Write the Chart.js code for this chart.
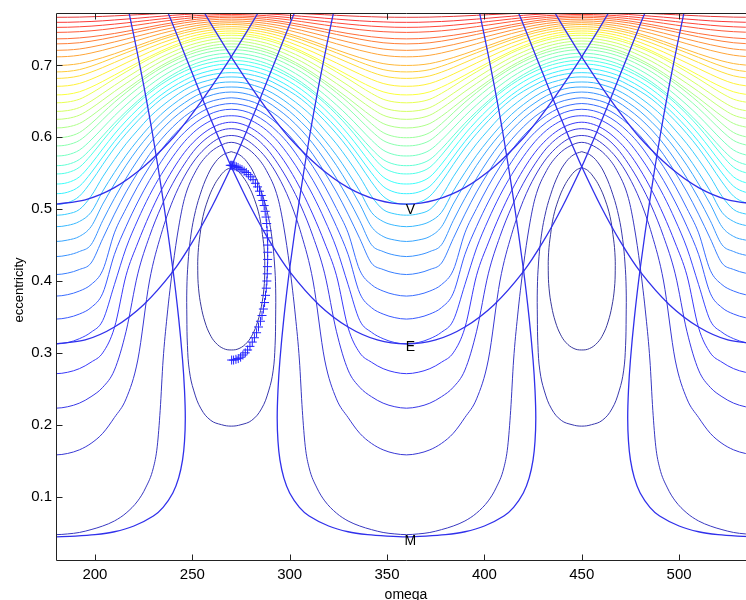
<!DOCTYPE html>
<html><head><meta charset="utf-8">
<script src="https://cdn.jsdelivr.net/npm/chart.js@4.4.1/dist/chart.umd.min.js"></script>
<style>
html,body{margin:0;padding:0;background:#fff;overflow:hidden;width:746px;height:600px}
#wrap{position:absolute;left:0;top:0;width:770px;height:600px}
</style></head>
<body><div id="wrap"><canvas id="c" width="770" height="600"></canvas></div>
<script>
// ---- axes ----
const xTicks = [200, 250, 300, 350, 400, 450, 500];
const yTicks = [0.1, 0.2, 0.3, 0.4, 0.5, 0.6, 0.7];

// ---- circulating contours: e at offset (deg) from the U centre (180/360/540) toward the island (270/450)
const D = [0, 6, 12, 18, 24, 30, 36, 42, 48, 54, 60, 66, 72, 78, 84, 90];
const d00 = [0, 6, 12, 18, 24, 30, 36, 42, 46, 50, 52, 53.5, 55, 57, 60, 63, 66, 72, 78, 84, 90];
const u00 = [.047,.048,.050,.054,.059,.066,.077,.094,.112,.14,.17,.22,.29,.35,.42,.475,.515,.554,.576,.588,.593];
const u01 = [.158,.160,.165,.174,.188,.210,.236,.29,.40,.465,.512,.546,.571,.588,.599,.6025];
const u02 = [.223,.225,.230,.239,.252,.276,.33,.41,.462,.503,.536,.563,.585,.600,.609,.612];
const u03 = [.271,.273,.278,.287,.300,.335,.408,.453,.492,.526,.555,.579,.597,.610,.618,.621];
const u04 = [.3125,.3143,.3197,.3287,.345,.395,.446,.485,.519,.548,.573,.594,.610,.621,.628,.630];
const u05 = [.347,.349,.354,.363,.383,.437,.476,.510,.540,.566,.589,.607,.621,.631,.637,.639];
const u06 = [.379,.381,.386,.395,.415,.467,.501,.532,.559,.582,.602,.618,.631,.640,.645,.647];
const u07 = [.409,.411,.416,.425,.459,.493,.524,.551,.576,.597,.6145,.629,.640,.6485,.653,.655];
const u08 = [.434,.436,.441,.4505,.484,.515,.543,.5685,.591,.610,.626,.639,.650,.657,.6615,.663];
const u09 = [.455,.457,.462,.4756,.507,.535,.561,.584,.604,.621,.636,.648,.658,.665,.669,.670];
const u10 = [.4756,.4774,.4828,.4956,.525,.551,.575,.596,.615,.632,.6455,.657,.666,.672,.676,.677];
const u11 = [.4916,.4934,.4995,.518,.545,.569,.591,.610,.628,.6425,.655,.666,.674,.679,.683,.684];
const u12 = [.507,.509,.518,.538,.562,.585,.605,.623,.639,.653,.664,.673,.681,.686,.689,.690];
const u13 = [.5215,.5236,.5318,.5505,.5726,.5941,.6133,.6304,.6457,.659,.6702,.6794,.6868,.6918,.6951,.696];
const u14 = [.535,.537,.5449,.5627,.5839,.6045,.6228,.6392,.6539,.6666,.6773,.6861,.6931,.698,.7012,.702];
const u15 = [.549,.5509,.5583,.5752,.5953,.6147,.6321,.6476,.6615,.6735,.6836,.692,.6986,.7032,.7062,.707];
const u16 = [.5605,.5623,.5691,.584,.6019,.6196,.6358,.6508,.6644,.6767,.6872,.6959,.7029,.7079,.7111,.712];
const u17 = [.574,.5757,.5822,.5962,.613,.6298,.6451,.6592,.6721,.6837,.6935,.7018,.7084,.7131,.7161,.717];
const u18 = [.588,.5896,.5956,.6088,.6246,.6403,.6546,.6679,.6799,.6908,.700,.7078,.714,.7184,.7212,.722];
const u19 = [.5994,.6009,.6066,.619,.634,.6488,.6623,.6749,.6862,.6965,.7052,.7126,.7184,.7226,.7252,.726];
const u20 = [.613,.6144,.6192,.6294,.6418,.6545,.6667,.6784,.6894,.6995,.7082,.7158,.7219,.7264,.7292,.730];
const u21 = [.625,.6263,.6308,.6403,.6518,.6637,.675,.6859,.6962,.7056,.7137,.7208,.7265,.7306,.7332,.734];
const u22 = [.636,.6372,.6414,.6503,.6611,.6722,.6828,.693,.7026,.7114,.719,.7257,.731,.7348,.7373,.738];
const u23 = [.648,.6491,.653,.6612,.6711,.6814,.6911,.7005,.7094,.7175,.7245,.7306,.7355,.7391,.7413,.742];
const u24 = [.659,.6599,.6633,.6698,.6778,.6865,.6953,.7039,.7122,.7201,.7272,.7334,.7384,.742,.7442,.745];
const u25 = [.671,.6718,.6749,.6807,.6879,.6956,.7035,.7112,.7187,.7257,.7321,.7376,.7421,.7453,.7473,.748];
const u26 = [.682,.6828,.6855,.6907,.6971,.7041,.7111,.718,.7247,.7311,.7367,.7417,.7457,.7486,.7504,.751];
const u27 = [.691,.6917,.6942,.6989,.7048,.7112,.7176,.7239,.730,.7358,.741,.7455,.7491,.7518,.7534,.754];
const u28 = [.700,.7006,.7026,.7063,.7109,.7162,.7219,.7276,.7334,.7389,.7439,.7485,.7521,.7548,.7564,.757];
const u29 = [.712,.7125,.7142,.7173,.7211,.7255,.7302,.735,.7398,.7444,.7486,.7524,.7554,.7576,.759,.7595];
const u30 = [.721,.7215,.7229,.7256,.7289,.7327,.7367,.7409,.745,.749,.7526,.7559,.7585,.7604,.7616,.762];
const u31 = [.730,.7304,.7316,.7338,.7366,.7398,.7432,.7467,.7502,.7536,.7566,.7593,.7615,.7632,.7642,.7645];
const u32 = [.737,.7373,.7383,.7399,.742,.7445,.7474,.7504,.7536,.7567,.7595,.7621,.7642,.7657,.7667,.767];
const u33 = [.746,.7463,.747,.7482,.7498,.7518,.754,.7563,.7587,.7611,.7633,.7652,.7668,.768,.7687,.769];
const u34 = [.753,.7532,.7538,.7547,.756,.7575,.7592,.7611,.7629,.7648,.7665,.768,.7693,.7702,.7708,.771];
const u35 = [.760,.7601,.7606,.7612,.7621,.7633,.7645,.7658,.7672,.7685,.7698,.7709,.7718,.7724,.7729,.773];
const u36 = [.767,.7671,.7673,.7678,.7683,.769,.7698,.7706,.7714,.7722,.773,.7737,.7742,.7746,.7749,.775];
const uCentres = [180, 360, 540];

// ---- closed libration contours: [offset from island centre, e], top -> bottom
const oval1 = [[0,.558],[3,.554],[6,.545],[9,.532],[12,.513],[14.5,.49],[16,.465],[17,.44],[17.2,.415],[16.8,.39],[15.5,.365],[13.5,.343],[11,.326],[8,.314],[4,.306],[0,.304]];
const oval2 = [[0,.58],[4,.576],[8,.566],[12,.548],[16,.52],[19,.49],[21,.458],[22.2,.425],[22.8,.39],[22.8,.35],[22.5,.31],[21.5,.275],[19.2,.247],[15.5,.222],[10.5,.206],[5,.2],[0,.198]];
const islandCentres = [270, 450];

// ---- planet-crossing curves (half branches, omega, e)
const vHalf = [[256.5,.772],[262,.747],[270,.712],[280,.671],[290,.633],[300,.599],[315,.559],[330,.530],[345,.513],[360,.507]];
const eHalf = [[237.7,.772],[240,.757],[245,.723],[250,.689],[255,.655],[260,.622],[265,.59],[270,.559],[280,.503],[290,.454],[300,.413],[315,.367],[330,.336],[345,.318],[360,.3125]];
const mHalf = [[322.4,.772],[320,.741],[315,.673],[310,.598],[305,.513],[300,.417],[297,.348],[295,.29],[294,.248],[293.6,.209],[294,.177],[295,.151],[297,.126],[300,.105],[305,.085],[310,.073],[320,.059],[330,.051],[340,.047],[350,.045],[360,.044]];

// ---- integrated trajectory (+ markers)
const trackOmega = [269.5,270,270.5,271,271.8,272.6,273.5,274.5,275.5,276.6,277.7,278.8,280,281.2,282.4,283.5,284.5,285.4,286.2,286.9,287.4,287.9,288.2,288.4,288.6,288.7,288.7,288.7,288.6,288.5,288.3,288,287.6,287.1,286.5,285.8,285,284,283,281.9,280.8,279.6,278.4,277.2,276,274.8,273.6,272.4,271.2,270.2];
const trackEcc = [.561,.561,.561,.560,.560,.559,.558,.556,.555,.553,.551,.548,.545,.541,.536,.531,.525,.519,.512,.505,.497,.489,.480,.470,.460,.450,.440,.430,.420,.410,.400,.390,.380,.370,.361,.352,.344,.336,.328,.321,.315,.309,.304,.300,.297,.294,.292,.291,.290,.290];

// ---- curve labels
const labelText = ['V', 'E', 'M'];
const labelOmega = [362, 362, 362];
const labelEcc = [.499, .308, .0385];

// ---------------------------------------------------------------
function jet(t) {
  const c = v => Math.max(0, Math.min(1, v));
  const r = c(1.5 - Math.abs(4 * t - 3)), g = c(1.5 - Math.abs(4 * t - 2)), b = c(1.5 - Math.abs(4 * t - 1));
  const w = 0.22; // slight wash towards white, like the thin anti-aliased original lines
  const m = v => Math.round((v * (1 - w) + w) * 255);
  return `rgb(${m(r)},${m(g)},${m(b)})`;
}
const contourLevels = [[d00,u00],[D,u01],[D,u02],[D,u03],[D,u04],[D,u05],[D,u06],[D,u07],[D,u08],[D,u09],[D,u10],
  [D,u11],[D,u12],[D,u13],[D,u14],[D,u15],[D,u16],[D,u17],[D,u18],[D,u19],[D,u20],[D,u21],[D,u22],[D,u23],
  [D,u24],[D,u25],[D,u26],[D,u27],[D,u28],[D,u29],[D,u30],[D,u31],[D,u32],[D,u33],[D,u34],[D,u35],[D,u36]];
const NLEV = 42;
const datasets = [];

function lineDs(points, color, width, order, extra) {
  return Object.assign({ data: points, showLine: true, borderColor: color, backgroundColor: color,
    borderWidth: width, pointRadius: 0, fill: false, order: order }, extra || {});
}

// trajectory on top
datasets.push({ data: trackOmega.map((w, i) => ({ x: w, y: trackEcc[i] })), showLine: false,
  pointStyle: 'cross', pointRadius: 4.5, pointBorderWidth: 1, borderColor: 'rgb(35,35,255)',
  backgroundColor: 'rgb(35,35,255)', order: 0 });

// crossing curves
const crossColor = 'rgb(48,48,235)';
function addCrossing(half) {
  const mainBranch = half.map(([w, e]) => ({ x: w, y: e }));
  for (let i = half.length - 2; i >= 0; i--) mainBranch.push({ x: 720 - half[i][0], y: half[i][1] });
  datasets.push(lineDs(mainBranch, crossColor, 1.3, 1, { tension: 0.3 }));
  datasets.push(lineDs(half.map(([w, e]) => ({ x: 540 - w, y: e })), crossColor, 1.3, 1, { tension: 0.3 }));
  datasets.push(lineDs(half.map(([w, e]) => ({ x: w + 180, y: e })), crossColor, 1.3, 1, { tension: 0.3 }));
}
addCrossing(vHalf); addCrossing(eHalf); addCrossing(mHalf);

// closed libration contours
[oval1, oval2].forEach((ov, k) => {
  islandCentres.forEach(c => {
    const pts = ov.map(([d, e]) => ({ x: c + d, y: e }));
    for (let i = ov.length - 2; i >= 0; i--) pts.push({ x: c - ov[i][0], y: ov[i][1] });
    datasets.push(lineDs(pts, jet(k / NLEV), 1, 2, { tension: 0.4 }));
  });
});

// circulating contours (each joins smoothly across 270 and 450)
contourLevels.forEach(([off, arr], k) => {
  const color = jet((k + 2) / NLEV);
  const n = arr.length;
  const pts = [];
  uCentres.forEach((c, ci) => {
    const seg = [];
    for (let i = n - 1; i >= 1; i--) seg.push({ x: c - off[i], y: arr[i] });
    seg.push({ x: c, y: arr[0] });
    for (let i = 1; i < n; i++) seg.push({ x: c + off[i], y: arr[i] });
    if (ci > 0) seg.shift();
    pts.push(...seg);
  });
  datasets.push(lineDs(pts, color, 1, 2, { cubicInterpolationMode: 'monotone' }));
});

const FONT = "'Liberation Sans', Arial, Helvetica, sans-serif";
const framePlugin = {
  id: 'frame',
  afterDatasetsDraw(chart) {
    const { ctx, chartArea: a, scales: { x, y } } = chart;
    ctx.save();
    ctx.fillStyle = '#000';
    ctx.font = '14px ' + FONT;
    ctx.textAlign = 'center'; ctx.textBaseline = 'middle';
    labelText.forEach((t, i) => ctx.fillText(t, x.getPixelForValue(labelOmega[i]), y.getPixelForValue(labelEcc[i])));
    const L = Math.round(a.left) + 0.5, R = Math.round(a.right) - 0.5, T = Math.round(a.top) + 0.5, B = Math.round(a.bottom) - 0.5;
    ctx.strokeStyle = '#222'; ctx.lineWidth = 1;
    ctx.beginPath();
    ctx.moveTo(L, T); ctx.lineTo(R, T); ctx.lineTo(R, B); ctx.lineTo(L, B); ctx.closePath();
    const tl = 6;
    xTicks.forEach(v => { const px = Math.round(x.getPixelForValue(v)) + 0.5;
      ctx.moveTo(px, B); ctx.lineTo(px, B - tl); ctx.moveTo(px, T); ctx.lineTo(px, T + tl); });
    yTicks.forEach(v => { const py = Math.round(y.getPixelForValue(v)) + 0.5;
      ctx.moveTo(L, py); ctx.lineTo(L + tl, py); ctx.moveTo(R, py); ctx.lineTo(R - tl, py); });
    ctx.stroke();
    // axis titles
    ctx.font = '13px ' + FONT;
    ctx.save(); ctx.translate(19, 290); ctx.rotate(-Math.PI / 2);
    ctx.textAlign = 'center'; ctx.textBaseline = 'middle'; ctx.fillText('eccentricity', 0, 0); ctx.restore();
    ctx.font = '14px ' + FONT;
    ctx.textAlign = 'center'; ctx.textBaseline = 'alphabetic';
    ctx.fillText('omega', 406, 599);
    ctx.restore();
  }
};

new Chart(document.getElementById('c'), {
  type: 'scatter',
  data: { datasets },
  options: {
    responsive: false, animation: false, devicePixelRatio: 1, events: [],
    layout: { padding: { left: 0, right: 13, top: 8, bottom: 0 } },
    plugins: { legend: { display: false }, tooltip: { enabled: false } },
    scales: {
      x: { type: 'linear', min: 180, max: 540, position: 'bottom',
        grid: { display: false, drawTicks: false }, border: { display: false },
        afterBuildTicks: s => { s.ticks = xTicks.map(v => ({ value: v })); },
        afterFit: s => { s.height = 39; },
        ticks: { color: '#000', font: { family: FONT, size: 15 }, padding: 5, maxRotation: 0, callback: v => String(v) } },
      y: { type: 'linear', min: 0.0103, max: 0.773,
        grid: { display: false, drawTicks: false }, border: { display: false },
        afterBuildTicks: s => { s.ticks = yTicks.map(v => ({ value: v })); },
        afterFit: s => { s.width = 56; },
        ticks: { color: '#000', font: { family: FONT, size: 15 }, padding: 4, callback: v => Number(v).toFixed(1) } }
    }
  },
  plugins: [framePlugin]
});
</script>
</body></html>
